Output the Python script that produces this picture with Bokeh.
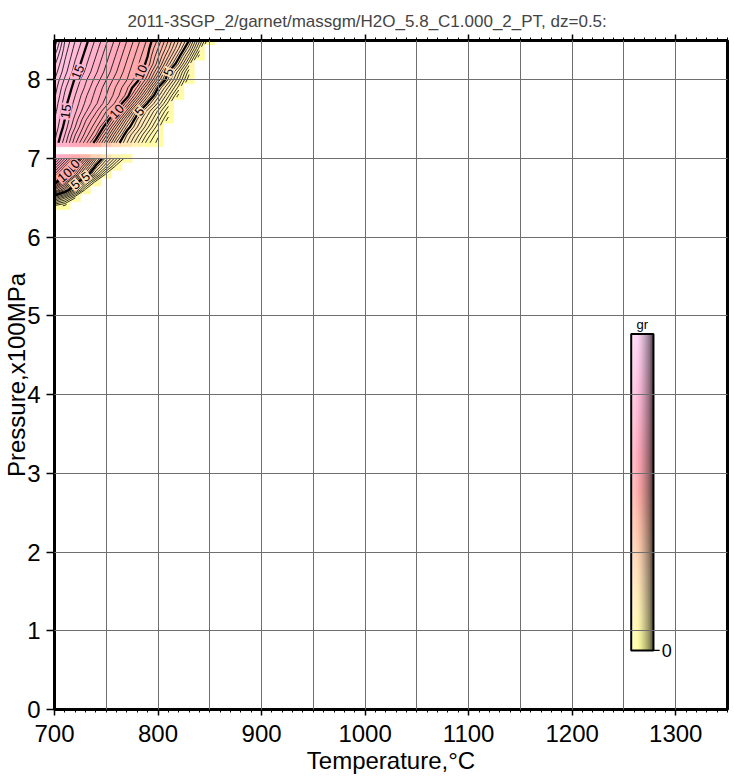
import numpy as np
import contourpy
from bokeh.plotting import figure
from bokeh.models import Range1d, LinearAxis, SingleIntervalTicker, ColumnDataSource, CustomJSTickFormatter
from bokeh.embed import file_html
from bokeh.resources import INLINE
from bokeh.core.properties import value

nan = float("nan")

TITLE = "2011-3SGP_2/garnet/massgm/H2O_5.8_C1.000_2_PT, dz=0.5:"
X_LABEL = "Temperature,\u00b0C"
Y_LABEL = "Pressure,x100MPa"
CB_LABEL = "gr"

# grid nodes (temperature, C) and (pressure, x100MPa)
T_NODES = [700, 710, 720, 730, 740, 750, 760, 770, 780, 790, 800, 810, 820, 830, 840, 850]
P_NODES = [6.4, 6.5, 6.6, 6.7, 6.8, 6.9, 7.0, 7.1, 7.2, 7.3, 7.4, 7.5, 7.6, 7.7,
           7.8, 7.9, 8.0, 8.1, 8.2, 8.3, 8.4, 8.5]

# garnet mass, one row per pressure node (bottom to top)
N = nan
GARNET = [
    [0.9, 0.4, N, N, N, N, N, N, N, N, N, N, N, N, N, N],                       # 6.4
    [3.8, 2.6, 1.0, N, N, N, N, N, N, N, N, N, N, N, N, N],                     # 6.5
    [7.5, 5.8, 3.6, 1.3, N, N, N, N, N, N, N, N, N, N, N, N],                   # 6.6
    [10.5, 8.2, 5.6, 3.2, 1.2, N, N, N, N, N, N, N, N, N, N, N],                # 6.7
    [12.0, 10.2, 8.2, 5.8, 3.4, 1.3, N, N, N, N, N, N, N, N, N, N],             # 6.8
    [13.5, 11.5, 9.5, 7.2, 4.8, 3.0, 1.2, N, N, N, N, N, N, N, N, N],           # 6.9
    [15.0, 13.0, 11.0, 8.8, 6.2, 4.2, 2.6, 1.0, N, N, N, N, N, N, N, N],        # 7.0
    [N, N, N, N, N, N, N, N, N, N, N, N, N, N, N, N],                           # 7.1
    [15.5, 14.2, 12.6, 11.2, 9.6, 7.6, 5.4, 4.0, 2.6, 1.2, 0.3, N, N, N, N, N],  # 7.2
    [15.7, 14.5, 13.0, 11.8, 10.5, 8.6, 6.4, 4.5, 3.2, 1.8, 0.6, N, N, N, N, N], # 7.3
    [15.9, 14.8, 13.5, 12.2, 11.1, 9.6, 7.5, 5.4, 4.0, 2.6, 1.2, N, N, N, N, N], # 7.4
    [16.0, 15.0, 13.8, 12.6, 11.6, 10.5, 8.7, 6.4, 4.5, 3.2, 1.8, 0.3, N, N, N, N],  # 7.5
    [16.2, 15.1, 14.1, 13.1, 12.1, 11.0, 10.0, 7.8, 5.3, 3.8, 2.4, 1.0, N, N, N, N], # 7.6
    [16.4, 15.2, 14.3, 13.4, 12.6, 11.7, 10.8, 9.2, 7.0, 4.9, 3.4, 1.8, N, N, N, N], # 7.7
    [16.6, 15.4, 14.5, 13.6, 12.8, 12.0, 11.2, 10.3, 8.4, 6.2, 4.2, 2.6, 0.8, N, N, N],  # 7.8
    [16.8, 15.6, 14.7, 13.9, 13.0, 12.2, 11.4, 10.6, 9.4, 7.4, 5.0, 3.4, 1.8, N, N, N],  # 7.9
    [17.0, 15.9, 14.9, 14.1, 13.3, 12.5, 11.7, 11.0, 10.2, 8.6, 6.4, 4.4, 2.6, 0.6, N, N],  # 8.0
    [17.3, 16.2, 15.2, 14.4, 13.6, 12.8, 12.0, 11.2, 10.4, 9.2, 7.4, 5.0, 3.2, 1.2, N, N],  # 8.1
    [17.6, 16.4, 15.4, 14.6, 13.8, 13.0, 12.2, 11.4, 10.6, 9.8, 8.2, 6.2, 4.4, 2.2, N, N],  # 8.2
    [18.0, 16.6, 15.6, 14.8, 14.0, 13.2, 12.4, 11.6, 10.8, 10.0, 8.6, 7.0, 5.2, 3.2, 0.8, N],  # 8.3
    [18.5, 16.8, 15.8, 15.0, 14.2, 13.4, 12.6, 11.8, 11.0, 10.2, 9.0, 7.6, 6.0, 4.2, 1.8, N],  # 8.4
    [19.0, 17.0, 16.0, 15.2, 14.4, 13.6, 12.8, 12.0, 11.2, 10.4, 9.4, 8.0, 6.5, 5.0, 2.6, 0.3],  # 8.5
]

DZ = 0.5
ZMAX = 20.0
# (level, pressure) where contour labels sit
LABEL_SPOTS = [(15, 8.08), (15, 7.63), (10, 8.05), (10, 7.63), (5, 8.08), (5, 7.63),
               (10, 6.88), (10, 6.76), (5, 6.76), (5, 6.64)]

# colour scale (fraction of ZMAX -> colour)
CB_STOPS = [0.0, 0.12, 0.25, 0.38, 0.50, 0.62, 0.75, 0.88, 1.0]
CB_COLORS = ["#ffffa0", "#fff3b4", "#ffdcb8", "#ffc3aa", "#ffaaa8", "#ffa8ba",
             "#ffb6d2", "#ffc6e6", "#ffd6f6"]

# colour bar placement (data coords of the frame)
CB_X0, CB_X1 = 1257, 1278.5
CB_Y0, CB_Y1 = 0.75, 4.77

FONT = "Liberation Sans"

_stops_rgb = np.array([[int(c[i:i + 2], 16) for i in (1, 3, 5)] for c in CB_COLORS], float)


def rgb_of(v):
    f = np.clip(np.asarray(v, float) / ZMAX, 0, 1)
    return np.stack([np.interp(f, CB_STOPS, _stops_rgb[:, k]) for k in range(3)], axis=-1)


def hex_of(v):
    r, g, b = rgb_of(v)
    return "#%02x%02x%02x" % (int(round(r)), int(round(g)), int(round(b)))


Tn = np.array(T_NODES, float)
Pn = np.array(P_NODES, float)
Z = np.array(GARNET, float)
dT = Tn[1] - Tn[0]
dP = Pn[1] - Pn[0]

p = figure(width=730, height=776, output_backend="svg", toolbar_location=None,
           x_range=Range1d(700, 1350), y_range=Range1d(0, 8.5),
           min_border_left=54, min_border_right=3, min_border_top=40, min_border_bottom=66,
           x_axis_label=X_LABEL, y_axis_label=Y_LABEL)
p.background_fill_color = "white"
p.border_fill_color = "white"
p.outline_line_color = "black"
p.outline_line_width = 3

p.title.text = TITLE
p.title.text_font = FONT
p.title.text_font_size = "17px"
p.title.text_font_style = "normal"
p.title.align = "left"
p.title.offset = 73
p.title.standoff = 8

# cell colours (GMT-like half-cell fringe)
cx, cy, cc = [], [], []
for i, pv in enumerate(Pn):
    for j, tv in enumerate(Tn):
        if np.isfinite(Z[i, j]):
            cx.append(tv)
            cy.append(pv)
            cc.append(hex_of(Z[i, j]))
p.rect(x=cx, y=cy, width=dT, height=dP, fill_color=cc, line_color=cc, line_width=0.6)

# smooth filled contour bands
fill_levels = list(np.arange(0, ZMAX + DZ / 2, DZ))
band_colors = [hex_of((a + b) / 2) for a, b in zip(fill_levels[:-1], fill_levels[1:])]
p.contour(x=Tn, y=Pn, z=Z, levels=fill_levels, fill_color=band_colors, line_color=None)

# contour lines
gen = contourpy.contour_generator(Tn, Pn, np.ma.masked_invalid(Z), line_type="Separate")
thin_x, thin_y, thick_x, thick_y = [], [], [], []
level_lines = {}
for lev in np.arange(DZ, ZMAX, DZ):
    segs = gen.lines(lev)
    for s in segs:
        if len(s) < 2:
            continue
        if abs(lev - round(lev / 5) * 5) < 1e-6:
            thick_x.append(list(s[:, 0]))
            thick_y.append(list(s[:, 1]))
        else:
            thin_x.append(list(s[:, 0]))
            thin_y.append(list(s[:, 1]))
    level_lines[round(lev, 2)] = segs
p.multi_line(xs=thin_x, ys=thin_y, line_color="black", line_width=0.8)
p.multi_line(xs=thick_x, ys=thick_y, line_color="black", line_width=2.3)

# contour labels
frame_w, frame_h = 673.0, 670.0
sx = frame_w / 650.0
sy = frame_h / 8.5
lx, ly, lt, la, lc = [], [], [], [], []
for lev, ptarget in LABEL_SPOTS:
    best = None
    for s in level_lines.get(float(lev), []):
        d = np.abs(s[:, 1] - ptarget)
        k = int(np.argmin(d))
        if best is None or d[k] < best[0]:
            best = (d[k], s, k)
    if best is None or best[0] > 0.06:
        continue
    _, s, k = best
    k0, k1 = max(k - 1, 0), min(k + 1, len(s) - 1)
    ddx = (s[k1, 0] - s[k0, 0]) * sx
    ddy = (s[k1, 1] - s[k0, 1]) * sy
    ang = np.arctan2(ddy, ddx)
    if ang > np.pi / 2:
        ang -= np.pi
    if ang < -np.pi / 2:
        ang += np.pi
    lx.append(s[k, 0])
    ly.append(s[k, 1])
    lt.append(str(lev))
    la.append(float(ang))
    lc.append(hex_of(lev))
lsrc = ColumnDataSource(dict(x=lx, y=ly, text=lt, angle=la, bg=lc))
p.text(x="x", y="y", text="text", angle="angle", source=lsrc,
       text_font=value(FONT), text_font_size="13px", text_color="black",
       text_align="center", text_baseline="middle",
       background_fill_color="bg", background_fill_alpha=1.0, padding=1)

# colour bar with GMT-like illumination
NY, NX = 240, 24
img = np.zeros((NY, NX, 4), dtype=np.uint8)
vals = np.linspace(0, ZMAX, NY)
base = rgb_of(vals)
for jx in range(NX):
    u = (jx + 0.5) / NX
    if u < 0.3:
        w = (0.3 - u) / 0.3 * 0.35
        col = base * (1 - w) + 255 * w
    else:
        f = 1 - 0.68 * ((u - 0.3) / 0.7) ** 1.3
        col = base * f
    img[:, jx, :3] = np.clip(col, 0, 255).astype(np.uint8)
img[:, :, 3] = 255
p.image_rgba(image=[img.view(dtype=np.uint32).reshape(NY, NX)], x=CB_X0, y=CB_Y0,
             dw=CB_X1 - CB_X0, dh=CB_Y1 - CB_Y0)
p.quad(left=CB_X0, right=CB_X1, bottom=CB_Y0, top=CB_Y1, fill_color=None,
       line_color="black", line_width=2)
p.segment(x0=CB_X1, x1=CB_X1 + 6, y0=CB_Y0, y1=CB_Y0, line_color="black", line_width=1.2)
p.text(x=[CB_X1 + 8], y=[CB_Y0], text=["0"], text_font=value(FONT), text_font_size="18px",
       text_baseline="middle", text_align="left", text_color="black")
p.text(x=[(CB_X0 + CB_X1) / 2], y=[CB_Y1 + 0.03], text=[CB_LABEL], text_font=value(FONT),
       text_font_size="13px", text_baseline="bottom", text_align="center", text_color="black")

# axes
p.xaxis.ticker = SingleIntervalTicker(interval=100, num_minor_ticks=10)
p.yaxis.ticker = SingleIntervalTicker(interval=1, num_minor_ticks=0)
for ax in (p.xaxis[0], p.yaxis[0]):
    ax.axis_line_width = 3
    ax.axis_line_color = "black"
    ax.major_tick_line_color = "black"
    ax.major_tick_line_width = 1.5
    ax.major_tick_in = 0
    ax.minor_tick_in = 0
    ax.major_label_text_font = FONT
    ax.major_label_text_font_size = "24px"
    ax.axis_label_text_font = FONT
    ax.axis_label_text_font_size = "24px"
    ax.axis_label_text_font_style = "normal"
    ax.major_label_text_color = "black"
    ax.axis_label_text_color = "black"
    ax.major_label_text_line_height = 0.9
    ax.axis_label_text_line_height = 0.9
p.xaxis.major_tick_out = 6
p.xaxis.minor_tick_out = 3
p.xaxis.minor_tick_line_color = "black"
p.xaxis.major_label_standoff = 9
p.xaxis.axis_label_standoff = 2
p.yaxis.major_tick_out = 8
p.yaxis.minor_tick_line_color = None
p.yaxis.major_label_standoff = 6
p.yaxis.axis_label_standoff = -6

top = LinearAxis(ticker=SingleIntervalTicker(interval=100, num_minor_ticks=10),
                 formatter=CustomJSTickFormatter(code="return ''"))
top.axis_line_width = 3
top.major_tick_out = 6
top.minor_tick_out = 3
top.major_tick_in = 0
top.minor_tick_in = 0
top.major_tick_line_width = 1.5
top.major_label_text_font_size = "1px"
top.major_label_standoff = 0
p.add_layout(top, "above")

p.xgrid.ticker = SingleIntervalTicker(interval=50)
p.ygrid.ticker = SingleIntervalTicker(interval=1)
for g in (p.xgrid[0], p.ygrid[0]):
    g.grid_line_color = "#6e6e6e"
    g.grid_line_width = 1
    g.level = "overlay"

open("out.html", "w").write(file_html(p, INLINE))
